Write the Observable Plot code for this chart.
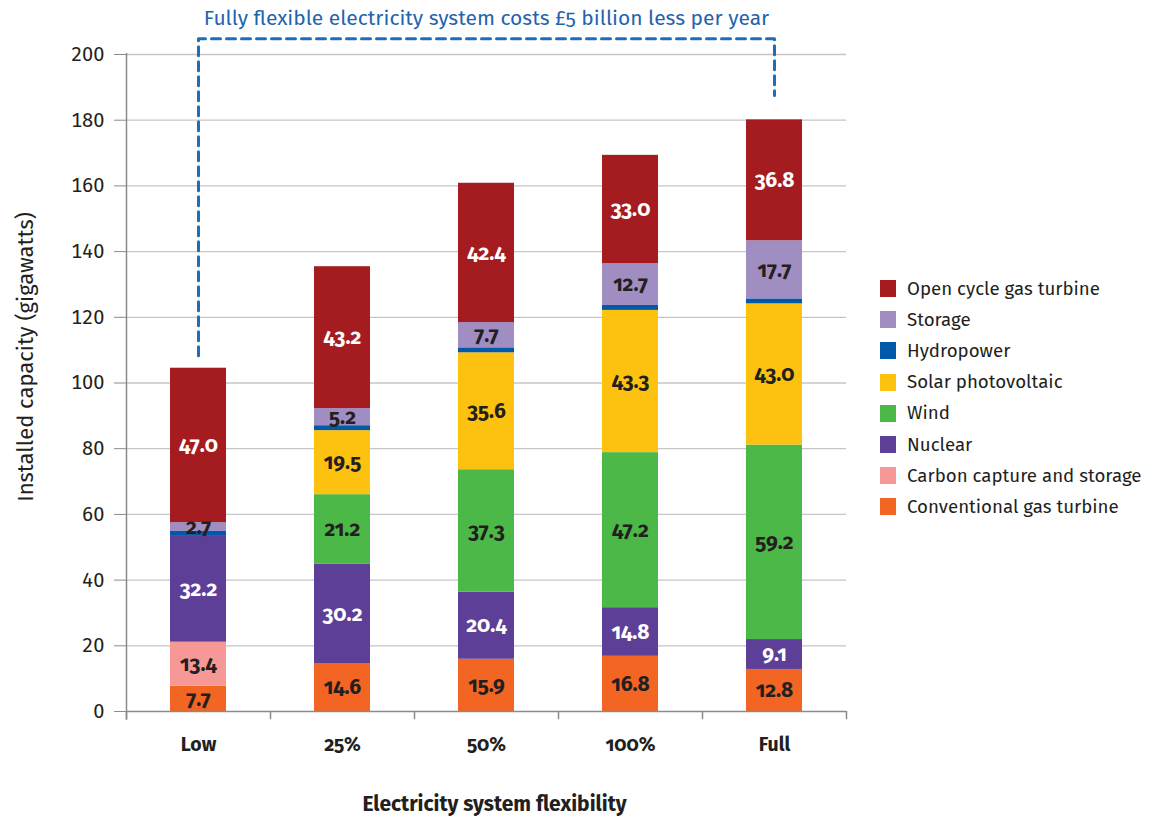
<!DOCTYPE html>
<html>
<head>
<meta charset="utf-8">
<script src="https://cdn.jsdelivr.net/npm/d3@7"></script>
<script src="https://cdn.jsdelivr.net/npm/@observablehq/plot@0.6"></script>
<style>
  body { margin: 0; background: #fff; }
  #wrap { position: relative; width: 1150px; height: 818px; font-family: "Fira Sans", "Open Sans", sans-serif; font-variant-numeric: oldstyle-nums; }
  #legend { position: absolute; left: 880px; top: 273px; }
  .row { display: flex; align-items: center; height: 31.2px; font-size: 18.7px; color: #231f20; }
  .sw { width: 16px; height: 17px; margin-right: 11px; }
</style>
</head>
<body>
<div id="wrap"></div>
<script>
const categories = ["Low", "25%", "50%", "100%", "Full"];
const techs = ["Conventional gas turbine", "Carbon capture and storage", "Nuclear", "Wind", "Solar photovoltaic", "Hydropower", "Storage", "Open cycle gas turbine"];
const colors = ["#f26522", "#f59896", "#5e3f98", "#4cb848", "#fdc110", "#005aa9", "#a08dc2", "#a51c20"];
const conventionalGas = [7.7, 14.6, 15.9, 16.8, 12.8];
const ccs = [13.4, 0, 0, 0, 0];
const nuclear = [32.2, 30.2, 20.4, 14.8, 9.1];
const wind = [0, 21.2, 37.3, 47.2, 59.2];
const solar = [0, 19.5, 35.6, 43.3, 43.0];
const hydro = [1.5, 1.5, 1.5, 1.5, 1.5];
const storage = [2.7, 5.2, 7.7, 12.7, 17.7];
const ocgt = [47.0, 43.2, 42.4, 33.0, 36.8];
const yTicks = [0, 20, 40, 60, 80, 100, 120, 140, 160, 180, 200];
const bracket = [["Low", 108.3], ["Low", 204.8], ["Full", 204.8], ["Full", 187.5]];
const title = "Fully flexible electricity system costs £5 billion less per year";

const seriesValues = [conventionalGas, ccs, nuclear, wind, solar, hydro, storage, ocgt];
const data = [];
categories.forEach((c, i) => techs.forEach((t, j) => data.push({cat: c, tech: t, value: seriesValues[j][i]})));

const whiteLabel = new Set(["Open cycle gas turbine", "Nuclear"]);
const fmt = d => (d.value > 0 && d.tech !== "Hydropower") ? d.value.toFixed(1) : "";
const font = "'Fira Sans', 'Open Sans', sans-serif";

const chart = Plot.plot({
  width: 1150,
  height: 818,
  marginLeft: 126,
  marginRight: 304,
  marginTop: 54,
  marginBottom: 107,
  style: {fontFamily: font, fontVariantNumeric: "oldstyle-nums", color: "#231f20", background: "#fff"},
  x: {domain: categories, paddingInner: 0.61, paddingOuter: 0.305, label: null},
  y: {domain: [0, 200], label: null},
  color: {domain: techs, range: colors},
  marks: [
    Plot.ruleY(yTicks.filter(d => d > 0), {stroke: "#c6c6c6", strokeWidth: 1.3}),
    Plot.barY(data, {x: "cat", y: "value", fill: "tech", order: techs}),
    Plot.text(data, Plot.stackY({x: "cat", y: "value", z: "tech", order: techs,
      text: d => whiteLabel.has(d.tech) ? fmt(d) : "", fill: "white", fontSize: 21, fontWeight: "bold"})),
    Plot.text(data, Plot.stackY({x: "cat", y: "value", z: "tech", order: techs,
      text: d => whiteLabel.has(d.tech) ? "" : fmt(d), fill: "#231f20", fontSize: 21, fontWeight: "bold"})),
    Plot.axisY({ticks: yTicks, tickSize: 12, tickPadding: 10, fontSize: 20, stroke: "#8a8a8a", fill: "#231f20", label: null}),
    Plot.ruleX([0], {x: () => categories[0], dx: -72, y1: -2.7, y2: 200.3, stroke: "#8a8a8a", strokeWidth: 1.5}),
    Plot.ruleY([0], {stroke: "#8a8a8a", strokeWidth: 1.5}),
    Plot.ruleX(categories, {dx: -72, y1: -2.5, y2: 0, stroke: "#8a8a8a", strokeWidth: 1.5}),
    Plot.ruleX([categories[categories.length - 1]], {dx: 72, y1: -2.5, y2: 0, stroke: "#8a8a8a", strokeWidth: 1.5}),
    Plot.axisX({tickSize: 0, tickPadding: 26, fontSize: 19.5, fontWeight: "bold", fill: "#231f20", label: null}),
    Plot.line(bracket, {x: d => d[0], y: d => d[1], stroke: "#1f6db6", strokeWidth: 3, strokeDasharray: "9,6"}),
    Plot.text([title], {frameAnchor: "top", lineAnchor: "middle", dy: -36, fontSize: 21, fill: "#1f64ad"}),
    Plot.text(["Installed capacity (gigawatts)"], {frameAnchor: "left", textAnchor: "middle", lineAnchor: "middle", rotate: -90, dx: -101, dy: -26, fontSize: 22, fill: "#231f20"}),
    Plot.text(["Electricity system flexibility"], {frameAnchor: "bottom", lineAnchor: "middle", dx: 8, dy: 93, fontSize: 21, fontWeight: "bold", fill: "#231f20"})
  ]
});

const wrap = document.getElementById("wrap");
wrap.appendChild(chart);
const legend = document.createElement("div");
legend.id = "legend";
techs.slice().reverse().forEach(t => {
  const row = document.createElement("div");
  row.className = "row";
  const sw = document.createElement("div");
  sw.className = "sw";
  sw.style.background = colors[techs.indexOf(t)];
  const lab = document.createElement("span");
  lab.textContent = t;
  row.appendChild(sw);
  row.appendChild(lab);
  legend.appendChild(row);
});
wrap.appendChild(legend);
</script>
</body>
</html>
